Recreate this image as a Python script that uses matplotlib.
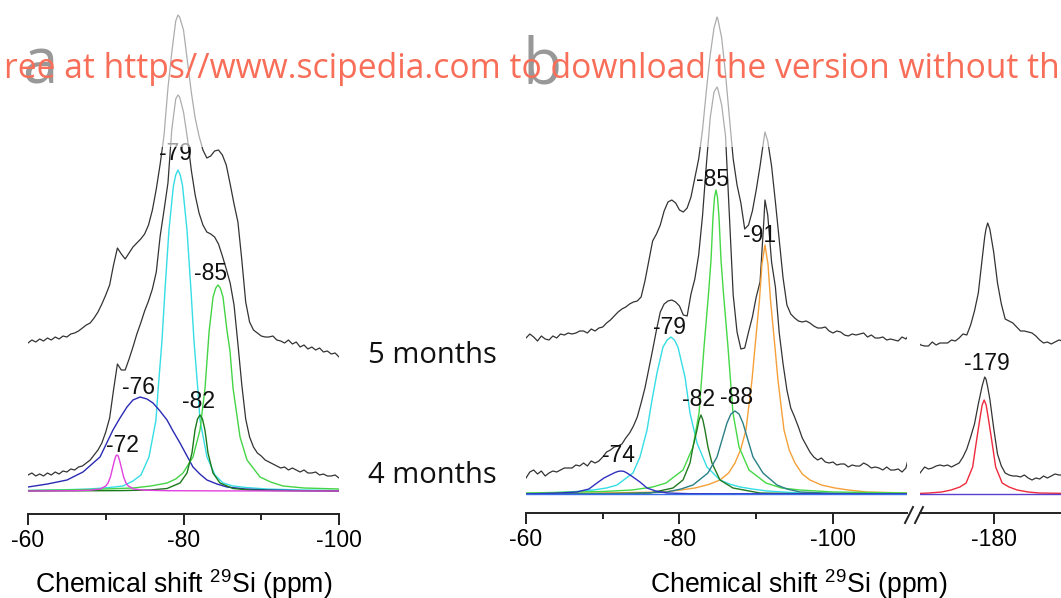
import matplotlib
matplotlib.use("Agg")
import matplotlib.pyplot as plt
from matplotlib.lines import Line2D
from matplotlib.patches import Rectangle

# ---------------- data (ppm, intensity a.u.) ----------------
# Panel a: measured spectra (4 months, 5 months)
A_PPM = [-60.0, -60.5, -61.0, -61.5, -62.0, -62.5, -63.0, -63.5, -64.0, -64.5,
         -65.0, -65.5, -66.0, -66.5, -67.0, -67.5, -68.0, -68.5, -69.0, -69.5,
         -70.0, -70.5, -71.0, -71.5, -72.0, -72.5, -73.0, -73.5, -74.0, -74.5,
         -75.0, -75.5, -76.0, -76.5, -77.0, -77.5, -78.0, -78.5, -79.0, -79.29,
         -79.5, -80.0, -80.5, -81.0, -81.5, -82.0, -82.5, -83.0, -83.5, -84.0,
         -84.5, -85.0, -85.5, -86.0, -86.5, -87.0, -87.5, -88.0, -88.5, -89.0,
         -89.5, -90.0, -90.5, -91.0, -91.5, -92.0, -92.5, -93.0, -93.5, -94.0,
         -94.5, -95.0, -95.5, -96.0, -96.5, -97.0, -97.5, -98.0, -98.5, -99.0,
         -99.5, -100.0]
A_4M = [16, 18, 15, 17, 15, 18, 16, 19, 17, 20,
        19, 22, 21, 24, 25, 28, 31, 36, 41, 48,
        59, 73, 101, 127, 121, 121, 132, 144, 157, 168,
        180, 190, 202, 219, 255, 281, 308, 362, 392, 396,
        394, 379, 353, 321, 296, 278, 266, 259, 257, 254,
        247, 235, 222, 208, 186, 147, 106, 72, 54, 44,
        38, 35, 31, 29, 27, 25, 23, 24, 21, 23,
        21, 19, 21, 18, 18, 19, 16, 17, 15, 15,
        16, 13]
A_5M = [13, 16, 14, 17, 15, 18, 16, 19, 17, 20,
        19, 22, 23, 25, 28, 31, 33, 38, 44, 52,
        61, 71, 91, 108, 102, 97, 103, 109, 113, 117,
        122, 131, 146, 167, 192, 221, 268, 304, 335, 341,
        339, 326, 295, 264, 238, 220, 206, 198, 200, 205,
        206, 201, 191, 172, 152, 134, 96, 54, 34, 26,
        23, 20, 19, 19, 20, 16, 15, 13, 16, 12,
        14, 9, 11, 7, 9, 6, 8, 4, 5, 2,
        3, -1]

# Panel a: fitted components (4 months)
A_C72_PPM = [-60, -66, -68, -69.3, -70.0, -70.3, -70.6, -70.85, -71.1, -71.3, -71.45,
             -71.6, -71.8, -72.05, -72.3, -72.6, -72.9, -73.6, -75, -78, -85, -100]
A_C72_INT = [0, 0.3, 0.8, 2, 5, 8, 14, 22, 30, 35, 36, 35, 30, 22, 14, 8, 5, 2, 0.8, 0.3, 0.1, 0]
A_C76_PPM = [-60, -62.5, -65.02, -67.07, -69.26, -70.93, -71.83, -72.73, -73.5, -74.41, -75.3,
             -76.08, -76.98, -77.88, -78.65, -79.55, -80.45, -81.22, -82.1, -83.02, -84.3,
             -85.59, -87.9, -90.74, -95, -100]
A_C76_INT = [4, 7, 11, 19, 34, 61, 73, 84, 91, 94, 92, 88, 80, 71, 60, 48, 35, 24, 17, 11, 7,
             4, 2, 1, 0.4, 0]
A_C79_PPM = [-60, -64.5, -67.84, -70.5, -72.22, -73.5, -74.53, -75.56, -76.46, -76.72, -77.23,
             -77.62, -78.13, -78.7, -79.0, -79.29, -79.58, -79.88, -80.45, -80.96, -81.35,
             -81.86, -82.12, -83.02, -84.05, -85.08, -86.36, -88.0, -90.74, -95, -100]
A_C79_INT = [0.5, 1.2, 2, 3.5, 5, 10, 16, 34, 71, 100, 150, 201, 261, 305, 316, 321, 316, 305,
             261, 201, 150, 100, 71, 34, 16, 8, 5, 3.5, 2, 1, 0.5]
A_C82_PPM = [-60, -72, -75.69, -77.88, -79.55, -80.45, -81.09, -81.48, -81.8, -82.12, -82.44,
             -82.76, -83.15, -83.79, -84.69, -86.36, -88.55, -92, -100]
A_C82_INT = [0, 0.4, 1, 2.5, 8, 18, 38, 61, 72, 76, 72, 61, 38, 18, 8, 2.5, 1, 0.4, 0]
A_C85_PPM = [-60, -68, -73.51, -75.8, -77.88, -79.0, -79.94, -81.22, -82.12, -82.77, -83.02,
             -83.3, -83.8, -84.15, -84.44, -84.73, -85.08, -85.6, -85.98, -86.37, -87.27,
             -88.17, -89.84, -91.2, -92.8, -95.5, -100]
A_C85_INT = [0.5, 1.5, 3, 5, 8, 12, 18, 34, 61, 103, 130, 160, 194, 203, 206, 203, 194, 160,
             140, 103, 54, 31, 14, 9, 5, 3, 2]

# Panel b (left part, -60 .. -110 ppm): measured spectra
B_PPM = [-60.0, -60.5, -61.0, -61.5, -62.0, -62.5, -63.0, -63.5, -64.0, -64.5,
         -65.0, -65.5, -66.0, -66.5, -67.0, -67.5, -68.0, -68.5, -69.0, -69.5,
         -70.0, -70.5, -71.0, -71.5, -72.0, -72.5, -73.0, -73.5, -74.0, -74.5,
         -75.0, -75.5, -76.0, -76.5, -77.0, -77.5, -78.0, -78.5, -79.0, -79.5,
         -80.0, -80.5, -81.0, -81.5, -82.0, -82.5, -83.0, -83.5, -84.0, -84.5,
         -84.89,
         -85.0, -85.5, -86.0, -86.5, -87.0, -87.5, -88.0, -88.5, -89.0, -89.5,
         -90.0, -90.5, -91.0,
         -91.14,
         -91.5, -92.0, -92.5, -93.0, -93.5, -94.0, -94.5, -95.0, -95.5, -96.0,
         -96.5, -97.0, -97.5, -98.0, -98.5, -99.0, -99.5, -100.0,
         -100.5, -101.0, -101.5, -102.0, -102.5, -103.0, -103.5, -104.0, -104.5,
         -105.0, -105.5, -106.0, -106.5, -107.0, -107.5, -108.0, -108.5, -109.0, -109.5,
         -109.7]
B_4M = [16, 22, 24, 20, 23, 18, 21, 23, 22, 24,
        26, 26, 26, 29, 28, 31, 28, 33, 31, 33,
        37, 42, 44, 47, 48, 50, 56, 61, 68, 77,
        91, 106, 125, 144, 164, 182, 190, 193, 194, 192,
        188, 179, 178, 200, 215, 239, 278, 329, 376, 402,
        407,
        405, 389, 358, 279, 199, 162, 145, 146, 162, 177,
        197, 212, 274,
        294,
        279, 232, 207, 161, 130, 104, 86, 77, 67, 56,
        49, 42, 37, 34, 36, 32, 31, 32,
        29, 30, 30, 27, 29, 28, 28, 31, 29,
        26, 27, 26, 24, 27, 24, 24, 25, 22, 26,
        32]
B_5M = [16, 20, 17, 13, 18, 15, 14, 18, 16, 20,
        19, 21, 20, 21, 23, 23, 21, 25, 23, 26,
        27, 31, 34, 38, 42, 45, 47, 50, 52, 53,
        57, 73, 93, 113, 120, 129, 143, 152, 154, 151,
        144, 142, 146, 157, 176, 195, 224, 263, 299, 326,
        337,
        335, 316, 280, 237, 195, 169, 151, 125, 129, 143,
        164, 188, 215,
        222,
        213, 188, 152, 114, 76, 49, 40, 36, 33, 32,
        33, 31, 28, 26, 26, 27, 23, 21,
        23, 22, 19, 18, 20, 19, 20, 21, 17,
        19, 16, 16, 17, 14, 15, 14, 13, 17, 15,
        17]

# Panel b: fitted components (4 months)
B_C74_PPM = [-60, -64.43, -66.64, -68.2, -69.25, -70.16, -70.94, -71.6, -72.0, -72.38, -72.76,
             -73.16, -73.94, -74.85, -75.77, -76.9, -78.37, -81.37, -109.7]
B_C74_INT = [0, 1, 2, 5, 11, 16, 19, 21.5, 22.6, 23, 22.6, 21, 17, 12, 6, 3, 1, 0.3, 0]
B_C79_PPM = [-60, -63.13, -66.5, -68.73, -70.5, -71.86, -73.94, -74.85, -75.77, -76.42, -77.07,
             -77.85, -78.4, -78.89, -79.35, -79.8, -80.72, -81.37, -82.28, -83.58, -85.28,
             -86.5, -87.88, -89.5, -91.4, -95.7, -100, -109.7]
B_C79_INT = [0.5, 1, 2.5, 4, 6, 9, 21, 37, 64, 94, 121, 147, 154, 157, 154, 147, 117, 81, 51,
             27, 14, 10, 7, 5, 3, 1, 0.6, 0.3]
B_C82_PPM = [-60, -72, -76.16, -79.15, -80.46, -81.37, -81.76, -82.28, -82.55, -82.8, -83.05,
             -83.32, -83.71, -84.23, -85.28, -86.97, -90.49, -95, -109.7]
B_C82_INT = [0, 0.4, 1, 6, 14, 31, 47, 64, 74, 79, 74, 64, 47, 31, 14, 6, 1, 0.4, 0]
B_C85_PPM = [-60, -70, -73.82, -76.5, -78.25, -80.46, -81.76, -82.55, -83.2, -83.78, -84.11,
             -84.37, -84.57, -84.76, -84.95, -85.15, -85.41, -85.74, -86.32, -86.97, -87.76,
             -89.06, -91.27, -93.3, -95.7, -100, -109.7]
B_C85_INT = [1, 2.5, 4, 7, 11, 24, 47, 81, 147, 200, 234, 277, 297, 304, 297, 277, 234, 200,
             147, 81, 47, 24, 11, 6, 4, 2, 1]
B_C88_PPM = [-60, -74, -78.37, -80.2, -81.76, -83.71, -84.89, -85.54, -86.19, -86.7, -87.23,
             -87.76, -88.27, -88.92, -89.58, -90.88, -92.7, -94.0, -95.7, -100, -109.7]
B_C88_INT = [0, 0.6, 2, 5, 9, 21, 37, 54, 71, 80, 83, 80, 71, 54, 37, 21, 9, 5, 2, 0.6, 0]
B_C91_PPM = [-60, -70, -77.84, -80.2, -82.02, -83.8, -85.28, -86.4, -87.23, -88.0, -88.66,
             -89.45, -89.84, -90.42, -90.75, -91.14, -91.53, -91.86, -92.44, -92.83, -93.62,
             -94.3, -95.05, -96.0, -97.0, -98.5, -100.26, -102.0, -104.44, -109.7]
B_C91_INT = [0.5, 1, 2, 4, 6, 9.5, 14, 21, 31, 45, 64, 114, 147, 194, 230, 249, 230, 194, 147,
             114, 64, 44, 31, 20, 14, 9, 6, 4, 2, 1]
B_BASE_PPM = [-60, -109.7]
B_BASE_INT = [0, 0]

# Panel b (right part, -170 .. -190 ppm)
R_PPM = [-170.2, -170.5, -171.0, -171.5, -172.0, -172.5, -173.0, -173.5, -174.0, -174.5,
         -175.0, -175.5, -176.0, -176.5, -177.0, -177.5, -178.0, -178.5, -178.83, -179.0,
         -179.22, -179.5, -180.0, -180.5, -181.0, -181.5, -182.0, -182.5, -183.0, -183.5,
         -184.0, -184.5, -185.0, -185.5, -186.0, -186.5, -187.0, -187.5, -188.0, -188.5, -189.0]
R_5M = [11, 9, 8, 8, 12, 9, 11, 11, 11, 14,
        13, 16, 20, 19, 29, 43, 61, 95, 117, 125,
        131, 125, 102, 71, 50, 35, 33, 31, 27, 23,
        23, 22, 21, 18, 14, 11, 12, 10, 12, 14, 13]
R_4M = [19, 22, 27, 25, 26, 28, 29, 28, 29, 27,
        29, 31, 37, 45, 57, 70, 90, 108, 117, 115,
        107, 95, 66, 40, 28, 21, 19, 18, 18, 17,
        19, 16, 14, 16, 15, 18, 16, 18, 20, 19, 19]
R_C179_PPM = [-170.2, -171.59, -173.2, -174.46, -175.6, -176.41, -177.26, -177.78, -178.24,
              -178.5, -178.76, -179.02, -179.28, -179.74, -180.26, -181.11, -182.0, -183.06,
              -184.5, -185.93, -190]
R_C179_INT = [0.5, 1, 2, 4, 7, 11, 27, 54, 77, 89, 94, 89, 77, 54, 27, 11, 7, 4, 2, 1, 0.5]
R_BASE_PPM = [-170.2, -190]
R_BASE_INT = [0, 0]

# peak labels
A_LABELS = ["-79", "-85", "-76", "-82", "-72"]
B_LABELS = ["-85", "-91", "-79", "-82", "-88", "-74"]
R_LABELS = ["-179"]

# ---------------- styling / layout ----------------
W, H = 1061, 598
OFF_A = 135        # vertical stacking offset of 5-month trace (panel a)
OFF_B = 140        # vertical stacking offset of 5-month trace (panel b)
A_LABEL_POS = [(-78.91, 337), (-83.54, 218), (-74.15, 104), (-81.99, 89), (-72.09, 46)]
B_LABEL_POS = [(-84.37, 314), (-90.49, 259), (-78.76, 167), (-82.54, 94), (-87.49, 97), (-71.99, 39)]
R_LABEL_POS = [(-179.1, 131)]

plt.rcParams["font.family"] = ["Liberation Sans", "DejaVu Sans"]
plt.rcParams["axes.unicode_minus"] = False
plt.rcParams["mathtext.default"] = "regular"

TRACE = "#333333"
AXC = "#222222"
LBL = 16.5

fig = plt.figure(figsize=(W / 100, H / 100), dpi=100)


def make_axes(left_px, spine_px, width_px, base_px, xlim):
    ax = fig.add_axes([left_px / W, 1 - spine_px / H, width_px / W, spine_px / H])
    ax.set_xlim(*xlim)
    ax.set_ylim(-(spine_px - base_px), base_px)
    ax.patch.set_visible(False)
    for s in ("top", "left", "right"):
        ax.spines[s].set_visible(False)
    ax.spines["bottom"].set_linewidth(1.4)
    ax.spines["bottom"].set_color(AXC)
    ax.set_yticks([])
    ax.tick_params(axis="x", which="major", direction="out", length=8, width=1.4,
                   color=AXC, labelsize=LBL, pad=3)
    ax.tick_params(axis="x", which="minor", direction="out", length=4.5, width=1.4, color=AXC)
    return ax


# ----- panel a -----
axa = make_axes(28, 514, 311, 491, (-60, -100))
axa.set_xticks([-60, -80, -100])
axa.set_xticklabels(["-60", "-80", "-100"])
axa.set_xticks([-70, -90], minor=True)

lw_c = 1.0
axa.plot(A_PPM, [v + OFF_A for v in A_5M], color=TRACE, lw=0.9)
axa.plot(A_PPM, A_4M, color=TRACE, lw=0.9)
axa.plot(A_C79_PPM, A_C79_INT, color="#35DDE5", lw=lw_c)
axa.plot(A_C76_PPM, A_C76_INT, color="#2A2AB5", lw=lw_c)
axa.plot(A_C85_PPM, A_C85_INT, color="#45D445", lw=lw_c)
axa.plot(A_C82_PPM, A_C82_INT, color="#1B7A1B", lw=lw_c)
axa.plot(A_C72_PPM, A_C72_INT, color="#E040E0", lw=lw_c)
for t, (x, y) in zip(A_LABELS, A_LABEL_POS):
    axa.text(x, y, t, ha="center", va="center", fontsize=LBL, color="#111111")

# ----- panel b (left) -----
axb = make_axes(526, 513, 381.4, 494, (-60, -109.7))
axb.set_xticks([-60, -80, -100])
axb.set_xticklabels(["-60", "-80", "-100"])
axb.set_xticks([-70, -90], minor=True)
axb.plot(B_PPM, [v + OFF_B for v in B_5M], color=TRACE, lw=0.9)
axb.plot(B_PPM, B_4M, color=TRACE, lw=0.9)
axb.plot(B_C91_PPM, B_C91_INT, color="#F5A038", lw=lw_c)
axb.plot(B_C79_PPM, B_C79_INT, color="#35DDE5", lw=lw_c)
axb.plot(B_C85_PPM, B_C85_INT, color="#45D845", lw=lw_c)
axb.plot(B_C82_PPM, B_C82_INT, color="#227A22", lw=lw_c)
axb.plot(B_C88_PPM, B_C88_INT, color="#2A7F86", lw=lw_c)
axb.plot(B_C74_PPM, B_C74_INT, color="#3030C0", lw=lw_c)
axb.plot(B_BASE_PPM, B_BASE_INT, color="#3A6EE8", lw=lw_c)
for t, (x, y) in zip(B_LABELS, B_LABEL_POS):
    axb.text(x, y, t, ha="center", va="center", fontsize=LBL, color="#111111")

# ----- panel b (right, after the axis break) -----
axr = make_axes(920, 513, 150.4, 494, (-170.4, -190))
axr.set_xticks([-180])
axr.set_xticklabels(["-180"])
axr.plot(R_PPM, [v + OFF_B for v in R_5M], color=TRACE, lw=0.9)
axr.plot(R_PPM, R_4M, color=TRACE, lw=0.9)
axr.plot(R_C179_PPM, R_C179_INT, color="#EE2A3C", lw=lw_c)
axr.plot(R_BASE_PPM, R_BASE_INT, color="#5B3FD0", lw=lw_c)
for t, (x, y) in zip(R_LABELS, R_LABEL_POS):
    axr.text(x, y, t, ha="center", va="center", fontsize=LBL, color="#111111")

# axis-break marks
for x0 in (905, 915):
    fig.add_artist(Line2D([x0 / W, (x0 + 8) / W], [1 - 523 / H, 1 - 507 / H],
                          transform=fig.transFigure, color=AXC, lw=1.4))

# axis titles
xl = r"Chemical shift $^{29}$Si (ppm)"
fig.text(184 / W, 1 - 593 / H, xl, ha="center", va="baseline", fontsize=19.2)
fig.text(799 / W, 1 - 593 / H, xl, ha="center", va="baseline", fontsize=19.2)

# sample labels
fig.text(432 / W, 1 - 363 / H, "5 months", ha="center", va="baseline",
         fontsize=21, family="Open Sans", color="#111111")
fig.text(432 / W, 1 - 483 / H, "4 months", ha="center", va="baseline",
         fontsize=21, family="Open Sans", color="#111111")

# panel letters
fig.text(22 / W, 1 - 83 / H, "a", ha="left", va="baseline", fontsize=46,
         family="Open Sans", color="#000000", zorder=5)
fig.text(523 / W, 1 - 83 / H, "b", ha="left", va="baseline", fontsize=46,
         family="Open Sans", color="#000000", zorder=5)

# washed-out band at the top + watermark
fig.add_artist(Rectangle((0, 1 - 147 / H), 1, 147 / H, transform=fig.transFigure,
                         facecolor="white", edgecolor="none", alpha=0.6, zorder=10))
fig.text(4 / W, 1 - 78 / H,
         "ree at https//www.scipedia.com to download the version without the watermark",
         ha="left", va="baseline", fontsize=24.2, family="Open Sans",
         color="#F86E58", zorder=20)

fig.savefig("out.png", dpi=100)
